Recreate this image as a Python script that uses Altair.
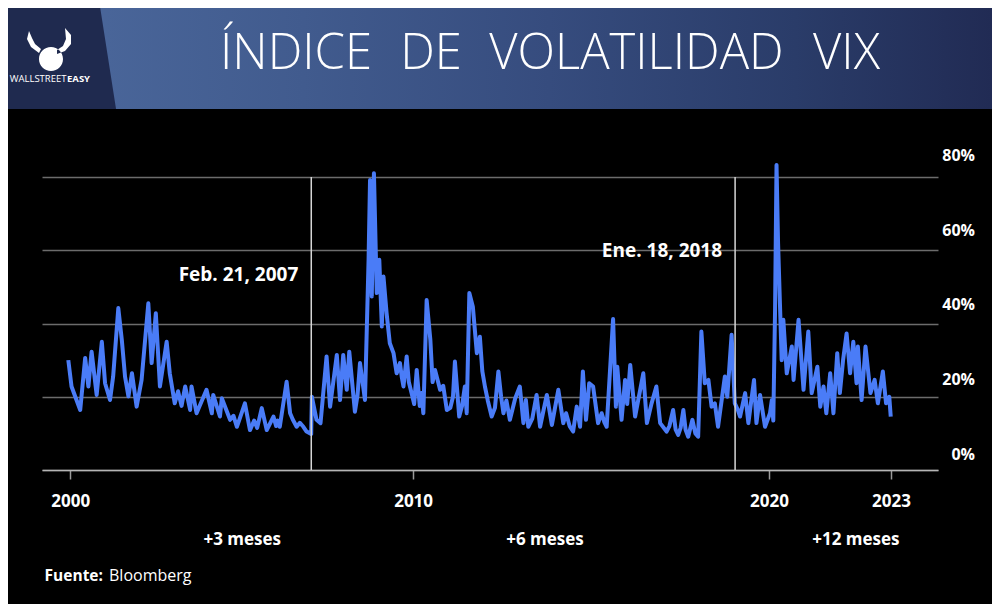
import altair as alt
import pandas as pd

# ---------------- data ----------------
vix_dates = [
    "2000-04-25", "2000-05-28", "2000-08-25", "2000-10-15", "2000-11-17", "2000-12-20",
    "2001-02-10", "2001-04-04", "2001-05-07", "2001-06-27", "2001-07-29", "2001-09-20",
    "2001-10-26", "2001-11-28", "2002-01-02", "2002-02-07", "2002-03-27", "2002-05-17",
    "2002-07-25", "2002-08-28", "2002-10-10", "2002-11-21", "2003-01-29", "2003-03-02",
    "2003-04-22", "2003-05-26", "2003-07-01", "2003-08-07", "2003-09-27", "2003-10-11",
    "2003-12-02", "2004-03-13", "2004-05-07", "2004-05-21", "2004-07-29", "2004-08-17",
    "2004-11-10", "2004-12-15", "2005-01-19", "2005-04-11", "2005-06-02", "2005-07-15",
    "2005-08-15", "2005-10-01", "2005-11-21", "2006-01-29", "2006-02-25", "2006-03-15",
    "2006-04-04", "2006-06-13", "2006-07-19", "2006-08-15", "2006-09-24", "2006-10-27",
    "2006-12-02", "2007-01-04", "2007-02-20", "2007-02-27", "2007-04-16", "2007-05-27",
    "2007-07-28", "2007-09-02", "2007-11-10", "2007-12-13", "2008-01-15", "2008-02-20",
    "2008-03-17", "2008-05-14", "2008-06-10", "2008-07-05", "2008-08-25", "2008-10-01",
    "2008-10-16", "2008-11-03", "2008-11-25", "2008-12-24", "2009-01-19", "2009-02-14",
    "2009-03-03", "2009-04-04", "2009-05-07", "2009-06-14", "2009-07-16", "2009-08-19",
    "2009-09-06", "2009-09-24", "2009-10-27", "2009-11-18", "2009-12-16", "2010-01-12",
    "2010-02-07", "2010-03-10", "2010-03-28", "2010-04-16", "2010-05-20", "2010-06-27",
    "2010-07-20", "2010-08-14", "2010-10-05", "2010-11-06", "2010-12-13", "2011-01-18",
    "2011-02-14", "2011-03-06", "2011-04-19", "2011-05-18", "2011-06-16", "2011-07-05",
    "2011-08-01", "2011-09-06", "2011-10-17", "2011-11-17", "2011-12-12", "2012-01-08",
    "2012-02-06", "2012-03-17", "2012-04-20", "2012-05-25", "2012-06-22", "2012-07-16",
    "2012-08-15", "2012-09-20", "2012-11-14", "2012-12-31", "2013-02-06", "2013-03-03",
    "2013-03-28", "2013-05-08", "2013-06-21", "2013-07-27", "2013-08-25", "2013-10-04",
    "2013-11-25", "2014-01-30", "2014-03-22", "2014-04-20", "2014-05-26", "2014-07-01",
    "2014-08-07", "2014-09-10", "2014-10-09", "2014-11-10", "2014-12-13", "2015-01-22",
    "2015-03-14", "2015-04-20", "2015-05-18", "2015-06-10", "2015-08-15", "2015-09-13",
    "2015-09-27", "2015-11-10", "2015-12-16", "2016-01-07", "2016-02-07", "2016-03-28",
    "2016-06-20", "2016-07-27", "2016-09-13", "2016-11-01", "2016-12-10", "2017-02-14",
    "2017-03-15", "2017-04-22", "2017-05-18", "2017-06-13", "2017-07-08", "2017-08-05",
    "2017-08-28", "2017-09-24", "2017-11-06", "2017-12-06", "2018-01-04", "2018-02-06",
    "2018-03-13", "2018-04-19", "2018-05-22", "2018-06-24", "2018-07-27", "2018-10-05",
    "2018-10-30", "2018-12-13", "2019-01-15", "2019-02-14", "2019-03-10", "2019-05-01",
    "2019-06-03", "2019-07-31", "2019-08-25", "2019-10-01", "2019-11-21", "2020-01-11",
    "2020-01-30", "2020-02-14", "2020-03-03", "2020-03-18", "2020-04-03", "2020-04-22",
    "2020-05-10", "2020-05-27", "2020-07-01", "2020-08-22", "2020-09-09", "2020-10-30",
    "2020-12-20", "2021-02-07", "2021-03-14", "2021-05-11", "2021-06-10", "2021-07-13",
    "2021-08-11", "2021-09-20", "2021-10-23", "2021-12-01", "2021-12-28", "2022-01-30",
    "2022-03-07", "2022-04-12", "2022-05-15", "2022-06-17", "2022-07-01", "2022-08-08",
    "2022-09-17", "2022-11-07", "2022-12-20", "2023-01-22", "2023-03-14", "2023-04-16",
    "2023-05-19", "2023-06-03",
]
vix_values = [
    30.0, 22.8, 16.4, 30.6, 22.8, 32.3,
    20.5, 35.0, 23.7, 19.1, 25.5, 44.2,
    35.5, 25.5, 20.1, 26.4, 17.3, 24.6,
    45.5, 29.2, 42.8, 22.8, 35.0, 26.4,
    18.2, 21.5, 17.5, 22.8, 16.4, 22.8,
    15.5, 21.9, 15.5, 20.5, 14.6, 19.6,
    13.7, 14.8, 11.8, 18.2, 10.9, 13.5,
    11.5, 16.9, 10.9, 14.6, 12.0, 13.5,
    11.8, 24.1, 15.5, 13.8, 11.8, 12.9,
    11.8, 10.5, 9.8, 20.0, 13.7, 12.8,
    31.0, 17.3, 31.4, 19.1, 31.4, 21.9,
    32.3, 15.9, 20.5, 29.2, 19.1, 57.4,
    79.2, 47.4, 81.0, 48.3, 57.4, 39.2,
    52.8, 42.8, 34.6, 31.9, 26.4, 29.2,
    25.5, 22.8, 31.0, 24.0, 21.0, 18.0,
    27.3, 17.5, 21.0, 15.5, 46.4, 35.5,
    24.0, 27.3, 21.9, 23.0, 16.4, 17.0,
    20.0, 29.6, 14.6, 17.5, 22.8, 15.5,
    48.3, 44.6, 31.9, 36.4, 27.0, 22.8,
    19.0, 14.6, 17.0, 26.9, 20.0, 15.5,
    19.0, 13.7, 19.6, 22.8, 12.8, 19.1,
    11.8, 14.0, 20.5, 11.8, 15.5, 20.5,
    12.3, 21.9, 12.8, 15.5, 12.0, 10.5,
    17.3, 11.8, 26.9, 13.7, 23.7, 22.8,
    12.8, 15.5, 13.0, 11.8, 41.2, 17.3,
    28.2, 13.7, 24.6, 18.0, 28.7, 14.6,
    26.4, 12.8, 18.2, 22.8, 12.8, 10.5,
    12.0, 16.4, 11.0, 9.6, 11.5, 16.4,
    11.0, 9.1, 13.7, 10.0, 9.1, 37.8,
    23.7, 24.6, 17.3, 18.2, 11.8, 25.5,
    20.0, 36.9, 18.2, 16.5, 14.6, 21.0,
    12.8, 24.6, 12.8, 20.5, 11.8, 15.5,
    19.1, 13.5, 43.7, 83.3, 61.9, 45.5,
    30.0, 41.0, 26.4, 33.7, 24.6, 41.0,
    21.9, 37.8, 21.0, 28.2, 17.3, 22.8,
    15.5, 26.4, 15.5, 31.9, 21.0, 30.0,
    37.3, 26.4, 35.0, 23.7, 33.7, 19.1,
    33.7, 21.0, 24.6, 18.2, 26.9, 18.2,
    20.0, 14.6,
]

marker_dates = ["2007-02-21", "2019-01-18"]
marker_labels = ["Feb. 21, 2007", "Ene. 18, 2018"]

period_dates = ["2005-03-15", "2013-09-15", "2022-06-10"]
period_labels = ["+3 meses", "+6 meses", "+12 meses"]

y_ticks = [0, 20, 40, 60, 80]
y_tick_labels = ["0%", "20%", "40%", "60%", "80%"]
title_words = ["ÍNDICE", "DE", "VOLATILIDAD", "VIX"]
brand_a, brand_b = "WALLSTREET", "EASY"
source_label, source_name = "Fuente:", "Bloomberg"

# ---------------- styles ----------------
FONT = "Open Sans"
W, H = 896, 293
LINE_COLOR = "#4a7cf7"
TITLE_CENTERS = [254, 389, 594.5, 804.5]   # pixel centres of the title words

vix = pd.DataFrame({"date": vix_dates, "value": vix_values})
markers = pd.DataFrame({"date": marker_dates, "label": marker_labels})
periods = pd.DataFrame({"date": period_dates, "label": period_labels})
yt = pd.DataFrame({"tick": y_ticks, "label": y_tick_labels})
one = pd.DataFrame({"k": [0]})

x_scale = alt.Scale(domain=[alt.DateTime(year=1999, month=7, date=30),
                            alt.DateTime(year=2024, month=9, date=30)])
x_axis = alt.Axis(
    values=[alt.DateTime(year=2000, month=5, date=14),
            alt.DateTime(year=2010, month=1, date=1),
            alt.DateTime(year=2020, month=1, date=1),
            alt.DateTime(year=2023, month=6, date=5)],
    format="%Y", title=None, grid=False,
    domainColor="#b5b5b5", domainWidth=1.5,
    tickColor="#9a9a9a", tickWidth=1.5, tickSize=9,
    labelColor="white", labelFont=FONT, labelFontSize=17, labelFontWeight="bold",
    labelPadding=14, labelFlush=False,
)
X = alt.X("date:T", scale=x_scale, axis=x_axis)

# header band
header = alt.Chart(one).mark_rect(
    color=alt.Gradient(
        gradient="linear",
        stops=[alt.GradientStop(offset=0, color="#4d6a9e"),
               alt.GradientStop(offset=0.3, color="#415b8e"),
               alt.GradientStop(offset=0.55, color="#364c7e"),
               alt.GradientStop(offset=0.8, color="#2a3c69"),
               alt.GradientStop(offset=1, color="#212b54")],
        x1=0, x2=1, y1=0, y2=0),
).encode(x=alt.value(-34), x2=alt.value(950), y=alt.value(-169), y2=alt.value(-68))

dark_panel = alt.Chart(one).mark_point(
    shape="M-1,-1 L0.67,-1 L0.967,0.9 L-1,0.9 Z",
    filled=True, size=14400, color="#1f2a4f", opacity=1, strokeWidth=0,
).encode(x=alt.value(16), y=alt.value(-122))

logo = alt.Chart(one).mark_point(
    shape=("M-0.911,-0.822 L-1,-0.467 L-0.822,-0.111 L-0.467,0.156 L-0.378,-0.022 "
           "L-0.644,-0.244 L-0.778,-0.511 Z "
           "M0.689,-0.956 L0.956,-0.644 L0.956,-0.244 L0.689,0.067 L0.333,0.2 "
           "L0.333,0.022 L0.6,-0.156 L0.733,-0.467 Z "
           "M-0.467,0.422 A0.533,0.533 0 1,0 0.6,0.422 A0.533,0.533 0 1,0 -0.467,0.422 Z"),
    filled=True, size=2025, color="white", opacity=1, strokeWidth=0,
).encode(x=alt.value(7.5), y=alt.value(-127.5))

brand1 = alt.Chart(one).mark_text(
    text=brand_a, font=FONT, fontSize=9.5, color="white", align="right", baseline="middle",
).encode(x=alt.value(24.5), y=alt.value(-98))
brand2 = alt.Chart(one).mark_text(
    text=brand_b, font=FONT, fontSize=9.5, fontWeight="bold", color="white",
    align="left", baseline="middle",
).encode(x=alt.value(25), y=alt.value(-98))

title_layers = [
    alt.Chart(one).mark_text(
        text=word, font=FONT, fontSize=49, fontWeight=300, color="white",
        align="center", baseline="alphabetic",
    ).encode(x=alt.value(cx), y=alt.value(-108.5))
    for word, cx in zip(title_words, TITLE_CENTERS)
]

# VIX line
line = alt.Chart(vix).mark_line(
    color=LINE_COLOR, strokeWidth=4, strokeJoin="round", clip=False,
).encode(
    x=X,
    y=alt.Y("value:Q",
            scale=alt.Scale(domain=[0, 80], nice=False, zero=True),
            axis=alt.Axis(
                orient="right", values=y_ticks, title=None, labels=False,
                grid=True, gridColor="#6c6c6c", gridWidth=1.5,
                domain=False, ticks=False,
            )),
)

# right-hand percentage labels (sit slightly above their grid lines)
y_labels = alt.Chart(yt).mark_text(
    font=FONT, fontSize=16, fontWeight="bold", color="white",
    align="right", baseline="middle",
).encode(
    x=alt.value(W + 37),
    y=alt.Y("tick:Q", scale=alt.Scale(domain=[-4.0, 74.3], nice=False, zero=False),
            axis=None),
    text="label:N",
)

rules = alt.Chart(markers).mark_rule(color="#d6d6d6", strokeWidth=1.5).encode(
    x=X, y=alt.value(0), y2=alt.value(H),
)

ann1 = alt.Chart(markers.iloc[[0]]).mark_text(
    font=FONT, fontSize=19, fontWeight="bold", color="white",
    align="right", baseline="middle", dx=-13,
).encode(x=X, y=alt.value(98), text="label:N")
ann2 = alt.Chart(markers.iloc[[1]]).mark_text(
    font=FONT, fontSize=19, fontWeight="bold", color="white",
    align="right", baseline="middle", dx=-13,
).encode(x=X, y=alt.value(74), text="label:N")

period_text = alt.Chart(periods).mark_text(
    font=FONT, fontSize=17, fontWeight="bold", color="white",
    align="center", baseline="middle",
).encode(x=X, y=alt.value(363), text="label:N")

src1 = alt.Chart(one).mark_text(
    text=source_label, font=FONT, fontSize=15.5, fontWeight="bold", color="white",
    align="left", baseline="middle",
).encode(x=alt.value(2.6), y=alt.value(399))
src2 = alt.Chart(one).mark_text(
    text=source_name, font=FONT, fontSize=16, color="white",
    align="left", baseline="middle",
).encode(x=alt.value(67), y=alt.value(399))

chart = alt.layer(
    header, dark_panel, logo, brand1, brand2, *title_layers,
    line, y_labels, rules, ann1, ann2, period_text, src1, src2,
).resolve_scale(
    y="independent"
).properties(
    width=W, height=H,
    autosize=alt.AutoSizeParams(type="none"),
    padding={"left": 34, "top": 169, "right": 54, "bottom": 134},
    background="black",
).configure_view(stroke=None)

chart.save("out.html", embed_options={"renderer": "svg", "actions": False})
